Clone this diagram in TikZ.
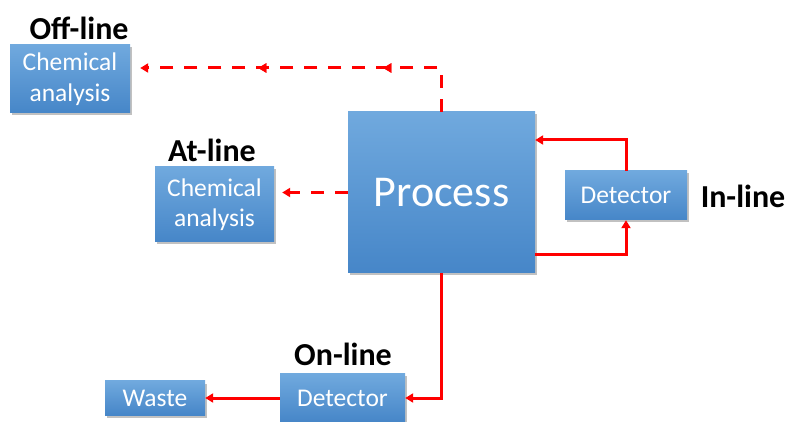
\documentclass[tikz,border=0pt]{standalone}
\usepackage{fontspec}
\setmainfont{Carlito}
\usetikzlibrary{arrows.meta,shadows,decorations.markings}
\definecolor{boxtop}{HTML}{70A9DE}
\definecolor{boxbottom}{HTML}{4686C8}
\definecolor{flowred}{HTML}{FF0000}

\begin{document}
\begin{tikzpicture}[x=1pt,y=-1pt,
    unit/.style={rectangle, top color=boxtop, bottom color=boxbottom, draw=none, text=white,
        align=center, inner sep=0pt, font=\fontsize{25.5}{30.5}\selectfont,
        drop shadow={shadow xshift=2pt, shadow yshift=-2.5pt, opacity=0.35, fill=black!70}},
    tag/.style={font=\bfseries\fontsize{32}{38}\selectfont},
    flow/.style={draw=flowred, line width=3pt, -{Triangle[length=8pt,width=9pt]}},
    tipmark/.style={postaction={decorate}, decoration={markings,
        mark=at position #1 with {\arrow[flowred]{Triangle[length=8pt,width=9pt]}}}}]
    \useasboundingbox (0,0) rectangle (788,422);
    % Boxes
    \node[unit, minimum width=187pt, minimum height=161pt, font=\fontsize{44}{50}\selectfont] (proc) at (441.5,192.5) {Process};
    \node[unit, minimum width=120pt, minimum height=68pt] (off) at (70,79) {Chemical\\analysis};
    \node[unit, minimum width=119pt, minimum height=75pt] (at) at (214.5,204.5) {Chemical\\analysis};
    \node[unit, minimum width=122pt, minimum height=49pt] (indet) at (626,195.5) {Detector};
    \node[unit, minimum width=125pt, minimum height=48pt] (ondet) at (342.5,398) {Detector};
    \node[unit, minimum width=100pt, minimum height=34pt] (waste) at (155,398) {Waste};
    % Labels
    \foreach \nm/\x/\y/\txt in {offtag/79/28/Off-line, attag/212/150/At-line, intag/743/196/In-line, ontag/343/354/On-line}
        \node[tag] (\nm) at (\x,\y) {\txt};
    % Flows
    \draw[flow, dash pattern=on 13pt off 11pt, shorten >=10pt, tipmark=102pt, tipmark=227pt]
        (proc.north) |- ([yshift=11pt]off.east);
    \draw[flow, dash pattern=on 13pt off 11pt, shorten >=8pt] (proc.west) -- (proc.west -| at.east);
    \draw[flow] (indet.north) |- ([yshift=52.5pt]proc.east);
    \draw[flow] ([yshift=-62.5pt]proc.east) -| (indet.south);
    \draw[flow] (proc.south) |- (ondet.east);
    \draw[flow] (ondet.west) -- (waste.east);
\end{tikzpicture}
\end{document}
